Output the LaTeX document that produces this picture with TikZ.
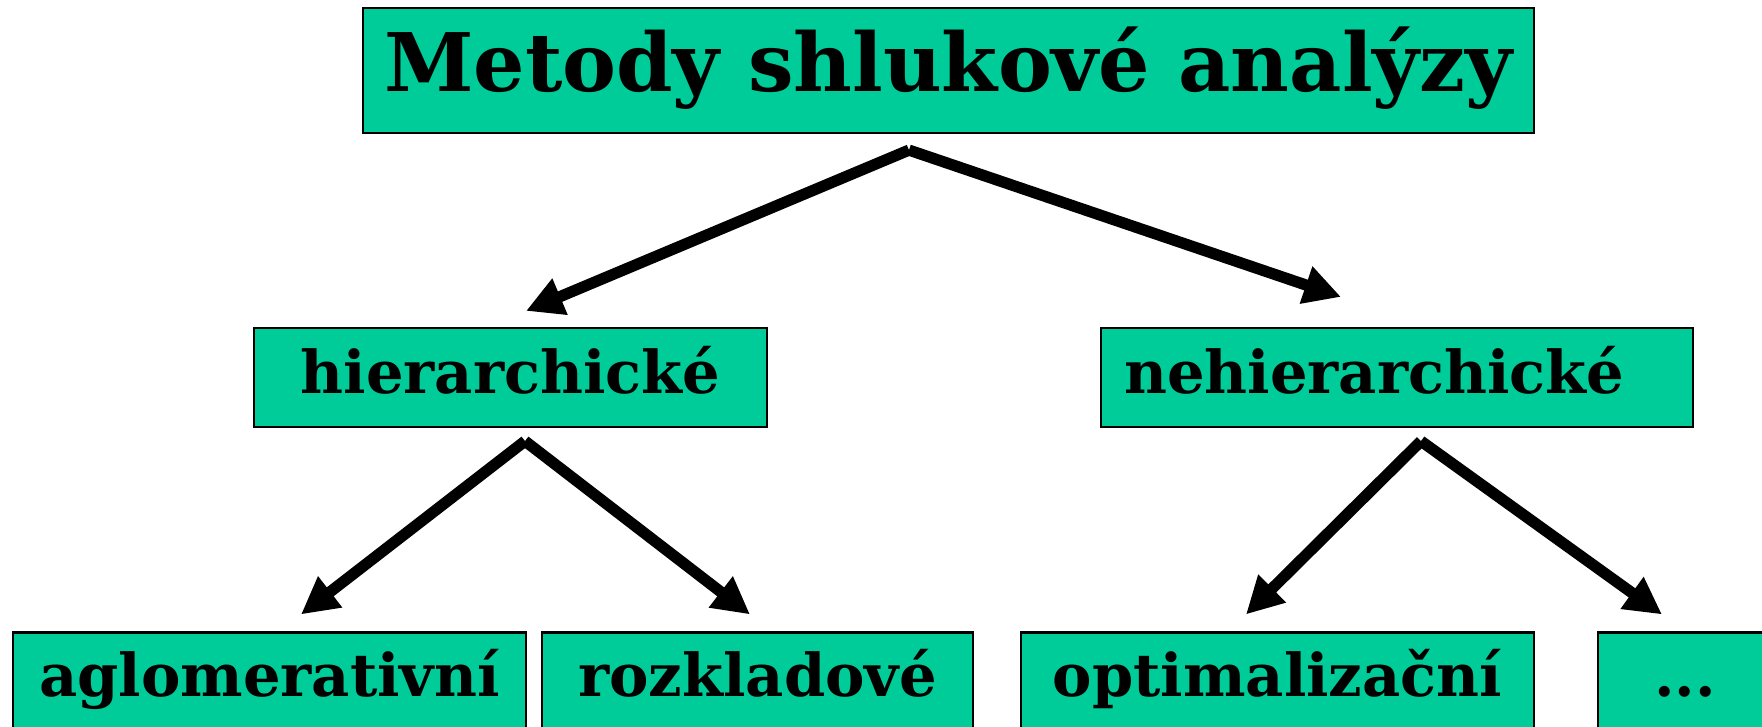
\documentclass[tikz,border=0pt]{standalone}
\usepackage{fontspec}
\setmainfont{DejaVu Serif}
\usetikzlibrary{arrows.meta,calc}
\definecolor{boxgreen}{HTML}{00CC99}
\tikzset{
  box/.style={draw=black, line width=0.6pt, fill=boxgreen, inner sep=0pt,
    text height=12.5pt, text depth=3.5pt,
    font=\bfseries\fontsize{16.8}{20}\selectfont},
  bigbox/.style={box, text height=17pt, text depth=5pt, font=\bfseries\fontsize{23}{27}\selectfont},
  arr/.style={line width=3.2pt, -{Triangle[length=10.5pt,width=10.5pt]}}
}

\begin{document}
\begin{tikzpicture}[x=0.01cm,y=-0.01cm]
  \useasboundingbox (0,0) rectangle (1762,727);

  % hlavni uzel
  \node[bigbox, minimum width=11.71cm, minimum height=1.25cm] (metody) at (948.5,70.5) {Metody shlukové analýzy};

  % druha uroven
  \node[box, minimum width=5.13cm, minimum height=0.99cm] (hier) at (510.5,377.5) {hierarchické};
  \node[box, minimum width=5.92cm, minimum height=0.99cm] (nehier) at (1397,377.5) {nehierarchické\kern13pt};

  % treti uroven
  \foreach \name/\x/\w/\txt in {aglo/269.5/5.13/aglomerativní, rozkl/757.5/4.31/rozkladové,
      optim/1277.5/5.13/optimalizační}
    \node[box, minimum width=\w cm, minimum height=0.97cm] (\name) at (\x,681) {\txt};
  \node[box, minimum width=1.74cm, minimum height=0.97cm] (dalsi) at (1685,681) {...};

  % sipky
  \draw[arr] ($(metody.south)+(-39.5,16)$) -- ($(hier.north)+(15.5,-16)$);
  \draw[arr] ($(metody.south)+(-39.5,16)$) -- ($(nehier.north)+(-56,-30)$);

  \draw[arr] ($(hier.south)+(14.5,13)$) -- ($(aglo.north)+(31.5,-17)$);
  \draw[arr] ($(hier.south)+(14.5,13)$) -- ($(rozkl.north)+(-7.5,-17)$);

  \draw[arr] ($(nehier.south)+(24,13)$) -- ($(optim.north)+(-31.5,-17)$);
  \draw[arr] ($(nehier.south)+(24,13)$) -- ($(dalsi.north)+(-23,-17)$);

\end{tikzpicture}
\end{document}
